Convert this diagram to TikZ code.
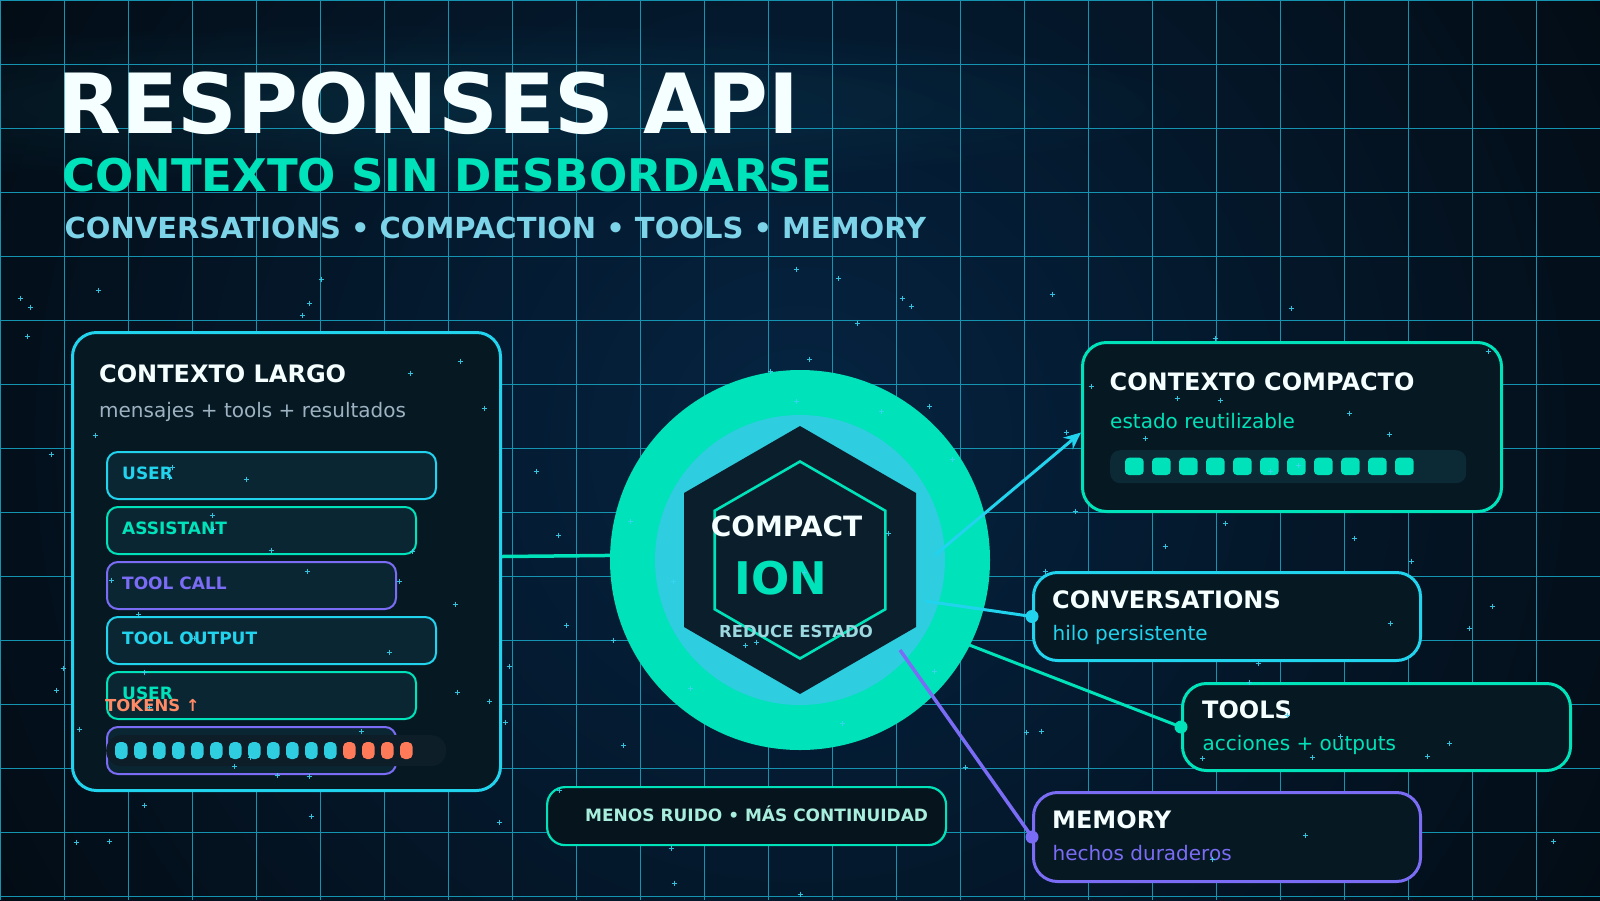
\documentclass[tikz,border=0pt]{standalone}
\usepackage{fontspec}
\setmainfont{DejaVu Sans}
\usetikzlibrary{arrows.meta,calc,fadings}

\definecolor{bgout}{RGB}{3,10,17}
\definecolor{bgin}{RGB}{5,36,66}
\definecolor{gridc}{RGB}{20,148,176}
\definecolor{tealc}{RGB}{0,226,185}
\definecolor{cyanc}{RGB}{34,211,238}
\definecolor{innerc}{RGB}{46,205,224}
\definecolor{purplec}{RGB}{123,108,246}
\definecolor{orangec}{RGB}{255,122,89}
\definecolor{tokentxt}{RGB}{255,138,101}
\definecolor{titlec}{RGB}{245,255,255}
\definecolor{thirdc}{RGB}{125,211,232}
\definecolor{subgray}{RGB}{157,179,194}
\definecolor{panelfill}{RGB}{6,24,34}
\definecolor{rowfill}{RGB}{11,38,51}
\definecolor{barleft}{RGB}{14,30,40}
\definecolor{barright}{RGB}{12,42,54}
\definecolor{hexfill}{RGB}{10,30,44}
\definecolor{mintc}{RGB}{168,238,221}
\definecolor{reducec}{RGB}{156,216,224}
\definecolor{starc}{RGB}{58,212,240}
\definecolor{bottomfill}{RGB}{6,20,30}

\tikzfading[name=glowfade, inner color=transparent!91, outer color=transparent!100]

\tikzset{
  gridline/.style={draw=gridc, line width=1pt},
  panelbox/.style={draw, line width=3pt, rounded corners=24pt, fill=panelfill, inner sep=0pt, anchor=north west},
  rowbox/.style={draw, line width=2pt, rounded corners=11pt, fill=rowfill, inner sep=0pt, anchor=north west, minimum height=47pt},
  txt/.style={anchor=base west, inner sep=0pt},
  rowlabel/.style={txt, font=\fontsize{17}{20}\selectfont\bfseries},
  boxtitle/.style={txt, text=titlec, font=\fontsize{24}{28}\selectfont\bfseries},
  boxsub/.style={txt, font=\fontsize{20}{24}\selectfont},
  conn/.style={line width=3.5pt},
  titlefont/.style={txt, font=\fontsize{83}{90}\selectfont\bfseries},
  starmark/.style={draw=starc, line width=1pt, opacity=0.9},
}

\begin{document}
\begin{tikzpicture}[x=1pt,y=-1pt]
\useasboundingbox (0,0) rectangle (1600,900);

% background
\fill[bgout] (0,0) rectangle (1600,900);
\begin{scope}
  \clip (0,0) rectangle (1600,900);
  \shade[inner color=bgin, outer color=bgout] (800,440) circle (1000);
  \fill[cyanc, path fading=glowfade] (-380,20) rectangle (1230,190);
  \foreach \gx in {0,64,...,1600} \draw[gridline] (\gx,0) -- (\gx,900);
  \foreach \gy in {0,64,...,896} \draw[gridline] (0,\gy) -- (1600,\gy);
\end{scope}

% titles
\node[titlefont, text=titlec] (title) at (57,133) {RESPONSES API};
\node[txt, text=tealc, font=\fontsize{45}{50}\selectfont\bfseries] (subtitle) at (62,191) {CONTEXTO SIN DESBORDARSE};
\node[txt, text=thirdc, font=\fontsize{29}{34}\selectfont\bfseries] (tags) at (64.5,238) {CONVERSATIONS • COMPACTION • TOOLS • MEMORY};

% left panel
\node[panelbox, draw=cyanc, minimum width=428pt, minimum height=458pt] (largo) at (71,331) {};
\node[boxtitle] (largoT) at (99,382) {CONTEXTO LARGO};
\node[boxsub, text=subgray] (largoS) at (99,417) {mensajes + tools + resultados};

\node[rowbox, draw=cyanc, minimum width=329pt] (r1) at (106,451) {};
\node[rowbox, draw=tealc, minimum width=309pt] (r2) at (106,506) {};
\node[rowbox, draw=purplec, minimum width=289pt] (r3) at (106,561) {};
\node[rowbox, draw=cyanc, minimum width=329pt] (r4) at (106,616) {};
\node[rowbox, draw=tealc, minimum width=309pt] (r5) at (106,671) {};
\node[rowbox, draw=purplec, minimum width=289pt] (r6) at (106,726) {};
\node[rowlabel, text=cyanc] (l1) at (122,479.3) {USER};
\node[rowlabel, text=tealc] (l2) at (122,534.3) {ASSISTANT};
\node[rowlabel, text=purplec] (l3) at (122,589.3) {TOOL CALL};
\node[rowlabel, text=cyanc] (l4) at (122,644.3) {TOOL OUTPUT};
\node[rowlabel, text=tealc] (l5) at (122,699.3) {USER};
\node[txt, text=tokentxt, font=\fontsize{16.5}{20}\selectfont\bfseries] (tok) at (105,711.3) {TOKENS ↑};

\node[fill=barleft, rounded corners=15pt, minimum width=340pt, minimum height=31pt, anchor=north west, inner sep=0pt] (tbar) at (106,735) {};
\foreach \i in {0,...,15}{
  \pgfmathsetmacro\xx{115+19*\i}
  \ifnum\i<12 \def\pc{innerc}\else\def\pc{orangec}\fi
  \fill[\pc, rounded corners=5pt] (\xx,742) rectangle ++(12.7,17);
}

% central emblem
\node[circle, fill=tealc, minimum size=380pt, inner sep=0pt] (ring) at (800,560) {};
\node[circle, fill=innerc, minimum size=290pt, inner sep=0pt] (inner) at (800,560) {};

\draw[conn, tealc, -{Stealth[length=20pt,width=17pt]}] ($(largo.east)+(0,-5)$) -- ($(inner.west)+(0,-5)$);

% right boxes
\node[panelbox, draw=tealc, minimum width=419pt, minimum height=169pt] (compacto) at (1081,341) {};
\node[panelbox, draw=cyanc, minimum width=387pt, minimum height=88pt] (conv) at (1032,571) {};
\node[panelbox, draw=tealc, minimum width=388pt, minimum height=87pt] (tools) at (1181,682) {};
\node[panelbox, draw=purplec, minimum width=387pt, minimum height=89pt] (memory) at (1032,791) {};

% connectors from the emblem
\coordinate (s1) at (935,555);
\coordinate (s2) at (925,601);
\coordinate (s3) at (928,629);
\coordinate (s4) at (900,650);
\draw[conn, cyanc, line width=3pt, -{Stealth[length=17pt,width=15pt]}] (s1) -- ($(compacto.west)+(0,5.5)$);
\draw[conn, cyanc, line width=3pt] (s2) -- (conv.west);
\fill[cyanc] (conv.west) circle (6.5);
\draw[conn, tealc, line width=3pt] (s3) -- (tools.west);
\fill[tealc] (tools.west) circle (6.5);
\draw[conn, purplec] (s4) -- (memory.west);
\fill[purplec] (memory.west) circle (6.5);

% hexagons
\fill[hexfill] (800,426) -- (916,493) -- (916,627) -- (800,694) -- (684,627) -- (684,493) -- cycle;
\draw[tealc, line width=2.6pt] (800,461.5) -- (885.3,510.75) -- (885.3,609.25) -- (800,658.5) -- (714.7,609.25) -- (714.7,510.75) -- cycle;
\node[anchor=base, inner sep=0pt, text=titlec, font=\fontsize{28}{32}\selectfont\bfseries] (compactT) at (786.5,536) {COMPACT};
\node[anchor=base, inner sep=0pt, text=tealc, font=\fontsize{45}{50}\selectfont\bfseries] (ionT) at (781,594) {ION};
\node[anchor=base, inner sep=0pt, text=reducec, font=\fontsize{16.5}{20}\selectfont\bfseries] (reduceT) at (796,637.7) {REDUCE ESTADO};

% right box texts
\node[boxtitle] (compactoT) at (1109.5,390.7) {CONTEXTO COMPACTO};
\node[boxsub, text=tealc] (compactoS) at (1110,428.7) {estado reutilizable};
\node[fill=barright, rounded corners=10pt, minimum width=356pt, minimum height=33pt, anchor=north west, inner sep=0pt] (cbar) at (1110,450) {};
\foreach \i in {0,...,10}{
  \pgfmathsetmacro\xx{1125+27*\i}
  \fill[tealc, rounded corners=4pt] (\xx,457.7) rectangle ++(18.7,17.3);
}

\node[boxtitle] (convT) at (1052,608.7) {CONVERSATIONS};
\node[boxsub, text=cyanc] (convS) at (1052.5,640) {hilo persistente};
\node[boxtitle] (toolsT) at (1202,718.7) {TOOLS};
\node[boxsub, text=tealc] (toolsS) at (1202.5,750.7) {acciones + outputs};
\node[boxtitle] (memoryT) at (1052,828.7) {MEMORY};
\node[boxsub, text=purplec] (memoryS) at (1052.5,860.7) {hechos duraderos};

% bottom tagline
\node[draw=tealc, line width=2.2pt, fill=bottomfill, rounded corners=18pt, minimum width=399pt, minimum height=58pt, anchor=north west, inner sep=0pt] (tagbox) at (546,786) {};
\node[txt, text=mintc, font=\fontsize{17}{20}\selectfont\bfseries] (tagT) at (585,821) {MENOS RUIDO • MÁS CONTINUIDAD};

% stars
\pgfmathsetseed{4242}
\foreach \i in {1,...,110}{
  \pgfmathrandominteger{\sx}{10}{1590}
  \pgfmathrandominteger{\sy}{262}{895}
  \draw[starmark] (\sx-2.5,\sy) -- (\sx+2.5,\sy) (\sx,\sy-2.5) -- (\sx,\sy+2.5);
}
\end{tikzpicture}
\end{document}
